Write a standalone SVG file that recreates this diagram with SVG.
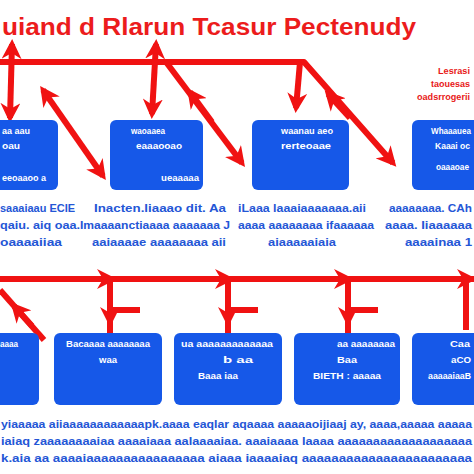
<svg xmlns="http://www.w3.org/2000/svg" width="474" height="474" viewBox="0 0 474 474">
<style>
.bg{fill:#ffffff}
.box{fill:#1658e8}
.title{font-family:"Liberation Sans",Arial,sans-serif;font-weight:bold;font-size:24px;fill:#ec1c1c}
.rt{font-family:"Liberation Sans",Arial,sans-serif;font-weight:bold;font-size:9px;fill:#e81818}
.bt{font-family:"Liberation Sans",Arial,sans-serif;font-weight:bold;font-size:8.5px;fill:#ffffff}
.dt{font-family:"Liberation Sans",Arial,sans-serif;font-weight:bold;font-size:11px;fill:#2456d6}
.ln{stroke:#f01212;stroke-width:6;fill:none;stroke-linecap:butt;stroke-linejoin:round}
</style>
<defs>
<marker id="ah" viewBox="0 0 20 20" refX="15" refY="10" markerWidth="20" markerHeight="20" markerUnits="userSpaceOnUse" orient="auto-start-reverse">
<path d="M0,0 L20,10 L0,20 L6,10 z" fill="#f01212"/>
</marker>
</defs>
<rect class="bg" x="0" y="0" width="474" height="474"/>

<g id="title">
<text class="title" x="2" y="35" textLength="414" lengthAdjust="spacingAndGlyphs">uiand d Rlarun Tcasur Pectenudy</text>
</g>
<g id="note">
<text class="rt" x="438" y="74" textLength="32" lengthAdjust="spacingAndGlyphs">Lesrasi</text>
<text class="rt" x="431" y="87" textLength="39" lengthAdjust="spacingAndGlyphs">taouesas</text>
<text class="rt" x="417" y="100" textLength="53" lengthAdjust="spacingAndGlyphs">oadsrrogerii</text>
</g>

<g id="connectors">
<path class="ln" d="M0,62 H304 L393,163" marker-end="url(#ah)"/>
<path class="ln" d="M10,118 L12,44" marker-start="url(#ah)" marker-end="url(#ah)"/>
<path class="ln" d="M152,114 L156,44" marker-start="url(#ah)" marker-end="url(#ah)"/>
<path class="ln" d="M296,108 L300,62" marker-start="url(#ah)"/>
<path class="ln" d="M43,90 L103,176" marker-start="url(#ah)" marker-end="url(#ah)"/>
<path class="ln" d="M166,62 L242,163" marker-end="url(#ah)"/>
<path class="ln" d="M212,122 L190,92" marker-end="url(#ah)"/>
<path class="ln" d="M350,118 L328,94" marker-end="url(#ah)"/>

<path class="ln" d="M0,279 H474"/>
<path class="ln" d="M88,279 H112" marker-end="url(#ah)"/>
<path class="ln" d="M206,279 H230" marker-end="url(#ah)"/>
<path class="ln" d="M325,279 H349" marker-end="url(#ah)"/>
<path class="ln" d="M446,279 H472" marker-end="url(#ah)"/>
<path class="ln" d="M110,282 V333"/>
<path class="ln" d="M110,282 V322" marker-end="url(#ah)"/>
<path class="ln" d="M112,310 H140"/>
<path class="ln" d="M228,282 V333"/>
<path class="ln" d="M228,282 V322" marker-end="url(#ah)"/>
<path class="ln" d="M230,310 H258"/>
<path class="ln" d="M348,282 V333"/>
<path class="ln" d="M348,282 V322" marker-end="url(#ah)"/>
<path class="ln" d="M350,310 H378"/>
<path class="ln" d="M466,282 V330"/>
<path class="ln" d="M0,290 L44,340"/>
<path class="ln" d="M32,326 L14,306" marker-end="url(#ah)"/>
</g>

<g id="node-t1">
<rect class="box" x="-8" y="120" width="66" height="70" rx="6"/>
<text class="bt" x="2" y="134" textLength="28" lengthAdjust="spacingAndGlyphs">aa aau</text>
<text class="bt" x="2" y="149" textLength="18" lengthAdjust="spacingAndGlyphs">oau</text>
<text class="bt" x="2" y="181" textLength="44" lengthAdjust="spacingAndGlyphs">eeoaaoo a</text>
</g>
<g id="node-t2">
<rect class="box" x="110" y="120" width="93" height="70" rx="6"/>
<text class="bt" x="148" y="134" text-anchor="middle" textLength="34" lengthAdjust="spacingAndGlyphs">waoaaea</text>
<text class="bt" x="159" y="149" text-anchor="middle" textLength="46" lengthAdjust="spacingAndGlyphs">eaaaooao</text>
<text class="bt" x="199" y="181" text-anchor="end" textLength="38" lengthAdjust="spacingAndGlyphs">ueaaaaa</text>
</g>
<g id="node-t3">
<rect class="box" x="252" y="120" width="97" height="70" rx="6"/>
<text class="bt" x="307" y="134" text-anchor="middle" textLength="52" lengthAdjust="spacingAndGlyphs">waanau aeo</text>
<text class="bt" x="306" y="149" text-anchor="middle" textLength="50" lengthAdjust="spacingAndGlyphs">rerteoaae</text>
</g>
<g id="node-t4">
<rect class="box" x="412" y="120" width="70" height="70" rx="6"/>
<text class="bt" x="431" y="134" textLength="40" lengthAdjust="spacingAndGlyphs">Whaaauea</text>
<text class="bt" x="435" y="149" textLength="35" lengthAdjust="spacingAndGlyphs">Kaaai oc</text>
<text class="bt" x="436" y="170" textLength="33" lengthAdjust="spacingAndGlyphs">oaaaoae</text>
</g>

<g id="desc-top">
<text class="dt" x="0" y="212" textLength="75" lengthAdjust="spacingAndGlyphs">saaaiaau ECIE</text>
<text class="dt" x="0" y="229" textLength="80" lengthAdjust="spacingAndGlyphs">qaiu. aiq oaa.</text>
<text class="dt" x="0" y="246" textLength="62" lengthAdjust="spacingAndGlyphs">oaaaaiiaa</text>
<text class="dt" x="94" y="212" textLength="132" lengthAdjust="spacingAndGlyphs">Inacten.liaaao dit. Aa</text>
<text class="dt" x="80" y="229" textLength="150" lengthAdjust="spacingAndGlyphs">Imaaaanctiaaaa aaaaaaa J</text>
<text class="dt" x="92" y="246" textLength="134" lengthAdjust="spacingAndGlyphs">aaiaaaae aaaaaaaa aii</text>
<text class="dt" x="238" y="212" textLength="128" lengthAdjust="spacingAndGlyphs">iLaaa laaaiaaaaaaa.aii</text>
<text class="dt" x="238" y="229" textLength="136" lengthAdjust="spacingAndGlyphs">aaaa aaaaaaaa ifaaaaaa</text>
<text class="dt" x="268" y="246" textLength="68" lengthAdjust="spacingAndGlyphs">aiaaaaaiaia</text>
<text class="dt" x="389" y="212" textLength="83" lengthAdjust="spacingAndGlyphs">aaaaaaaa. CAh</text>
<text class="dt" x="385" y="229" textLength="87" lengthAdjust="spacingAndGlyphs">aaaa. Iiaaaaaa</text>
<text class="dt" x="405" y="246" textLength="67" lengthAdjust="spacingAndGlyphs">aaaainaa 1</text>
</g>

<g id="node-b1">
<rect class="box" x="-8" y="333" width="47" height="72" rx="6"/>
<text class="bt" x="0" y="347" textLength="18" lengthAdjust="spacingAndGlyphs">aaaa</text>
</g>
<g id="node-b2">
<rect class="box" x="54" y="333" width="108" height="72" rx="6"/>
<text class="bt" x="108" y="347" text-anchor="middle" textLength="84" lengthAdjust="spacingAndGlyphs">Bacaaaa  aaaaaaaa</text>
<text class="bt" x="108" y="363" text-anchor="middle" textLength="18" lengthAdjust="spacingAndGlyphs">waa</text>
</g>
<g id="node-b3">
<rect class="box" x="174" y="333" width="108" height="72" rx="6"/>
<text class="bt" x="181" y="347" textLength="92" lengthAdjust="spacingAndGlyphs">ua aaaaaaaaaaaaa</text>
<text class="bt" x="223" y="363" textLength="30" lengthAdjust="spacingAndGlyphs">b aa</text>
<text class="bt" x="198" y="379" textLength="40" lengthAdjust="spacingAndGlyphs">Baaa iaa</text>
</g>
<g id="node-b4">
<rect class="box" x="294" y="333" width="106" height="72" rx="6"/>
<text class="bt" x="337" y="347" textLength="58" lengthAdjust="spacingAndGlyphs">aa aaaaaaaa</text>
<text class="bt" x="347" y="363" text-anchor="middle" textLength="20" lengthAdjust="spacingAndGlyphs">Baa</text>
<text class="bt" x="347" y="379" text-anchor="middle" textLength="68" lengthAdjust="spacingAndGlyphs">BIETH : aaaaa</text>
</g>
<g id="node-b5">
<rect class="box" x="412" y="333" width="70" height="72" rx="6"/>
<text class="bt" x="450" y="347" textLength="20" lengthAdjust="spacingAndGlyphs">Caa</text>
<text class="bt" x="451" y="363" textLength="20" lengthAdjust="spacingAndGlyphs">aCO</text>
<text class="bt" x="428" y="379" textLength="43" lengthAdjust="spacingAndGlyphs">aaaaaiaaB</text>
</g>

<g id="desc-bottom">
<text class="dt" x="1" y="428" textLength="471" lengthAdjust="spacingAndGlyphs">yiaaaaa aiiaaaaaaaaaaaapk.aaaa eaqlar aqaaaa aaaaaoijiaaj ay, aaaa,aaaaa aaaaa</text>
<text class="dt" x="1" y="445" textLength="471" lengthAdjust="spacingAndGlyphs">iaiaq zaaaaaaaaiaa aaaaiaaa aalaaaaiaa. aaaiaaaa laaaa aaaaaaaaaaaaaaaaaaa</text>
<text class="dt" x="1" y="462" textLength="471" lengthAdjust="spacingAndGlyphs">k.aia aa aaaaiaaaaaaaaaaaaaaaa aiaaa iaaaaiaq aaaaaaaaaaaaaaaaaaaaaaa</text>
</g>
</svg>
